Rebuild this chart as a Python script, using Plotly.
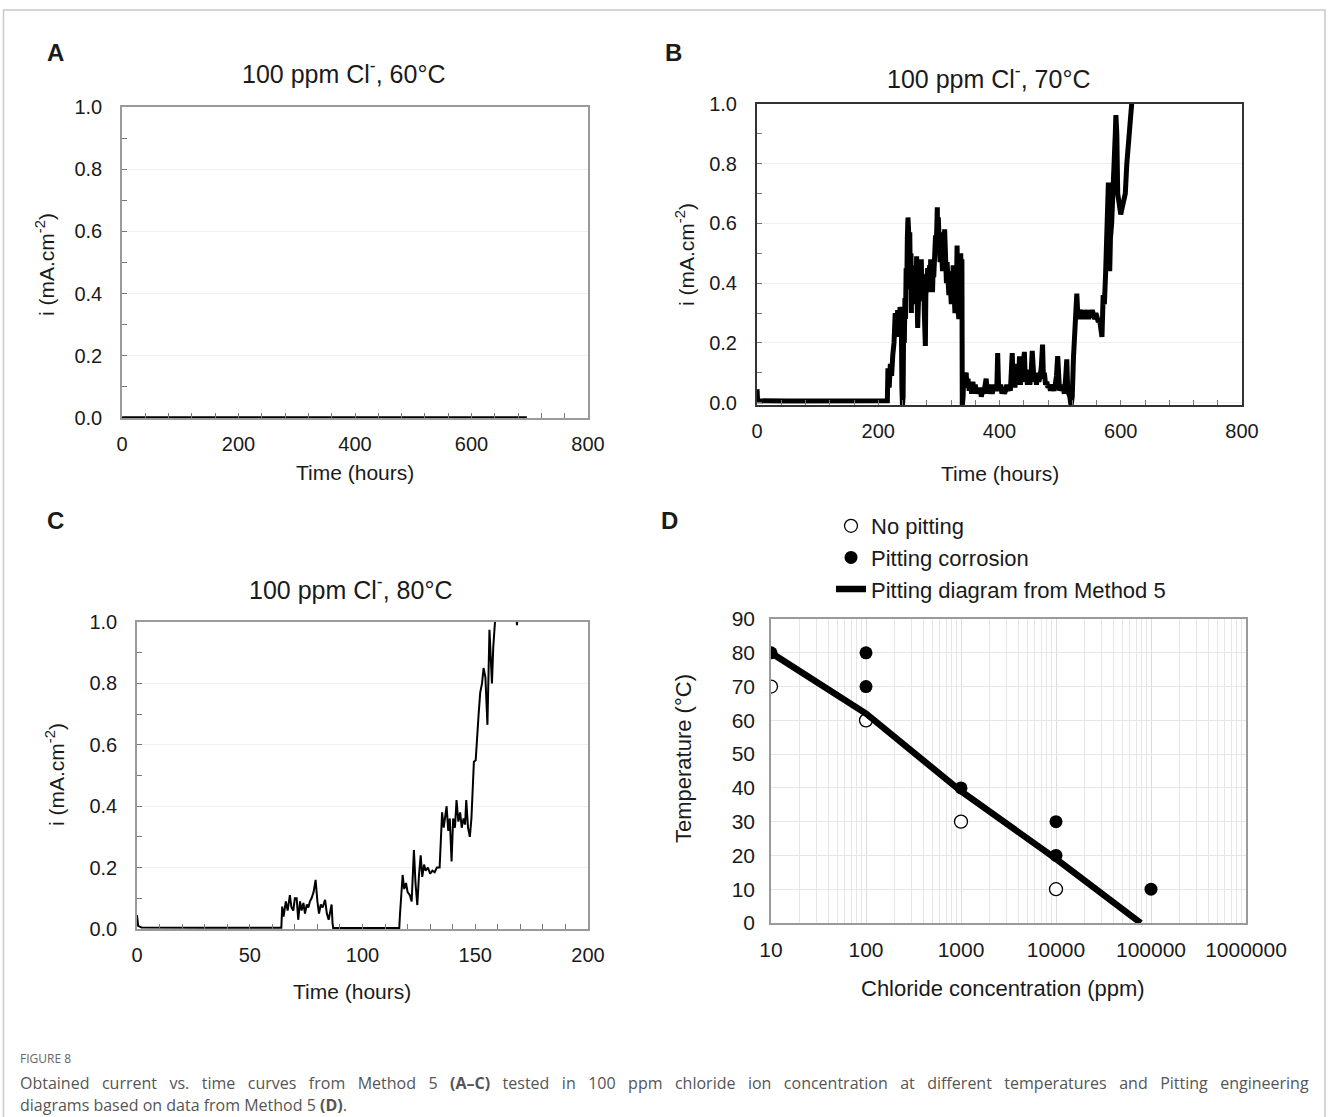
import plotly.graph_objects as go

# ---------------- data ----------------
# Panel A: 100 ppm Cl-, 60 C
a_time = [0, 1, 100, 200, 300, 400, 500, 600, 695]
a_current = [0.004, 0.002, 0.002, 0.002, 0.002, 0.002, 0.002, 0.002, 0.002]

# Panel B: 100 ppm Cl-, 70 C (segment by segment)
b_time = (
    [0, 1, 50, 100, 150, 200, 215]
    + [216, 218, 220, 222, 224, 226, 228, 230, 232, 234, 236, 238, 239, 240, 241]
    + [242, 243, 244, 245, 246, 247, 248, 249, 250, 251,
       252, 253, 254, 254.6, 255.5, 256.5, 257.5, 258.5, 259.5, 260.5,
       261.5, 262.5, 263.3, 264, 265, 266, 267, 268, 269, 270,
       271, 272, 273, 274, 275, 276, 277.7, 278.5, 279.5, 280.5,
       281.5, 282.5, 283.5, 284.8, 285.5, 286.5, 287.5, 288.5, 289.5, 290.5,
       291.5, 292.5, 293.5, 294.5, 295.5, 296.5, 297.4, 298, 299, 300,
       301, 302, 303, 304, 305, 306, 307, 308, 309.5, 310.5,
       311.5, 312.5, 313.5, 314.5, 315.5, 316.5, 317.5, 318.5, 319.5, 320.5,
       321.5, 322.5, 323.5, 324.5, 325.5, 326.5, 327.5, 328.5, 329.5, 330,
       331, 332, 333, 334, 335, 336, 337, 338, 338.6]
    + [340, 341, 342, 343.5, 345, 346.5, 348, 350, 352, 354,
       356, 358, 360, 362, 364, 366, 368, 370, 372, 374,
       376, 378, 380, 382, 384, 386, 388, 390, 392, 394,
       395.5, 397, 398.5, 400, 402, 404, 406, 408, 410, 412,
       414, 416, 418, 419.5, 421, 422.5, 424, 425.5, 427, 428.5,
       430, 431.5, 433, 434.5, 436, 437.5, 439, 441, 442.5, 444,
       446, 448, 450, 452, 454, 455.5, 457, 459, 461, 463,
       465, 467, 469, 471, 472.5, 474, 476, 478, 480, 482,
       484, 486, 488, 490, 492, 494, 496, 497.5, 499, 501,
       503, 505, 507, 509, 511, 512.5, 514, 516, 518]
    + [520, 522, 524, 526, 527.5, 529, 531, 533, 535, 537,
       539, 541, 543, 545, 547, 549, 551, 553, 555, 557,
       559, 561, 563, 565, 567, 569, 571, 573, 575, 577,
       578.5, 579.6, 581, 581.8, 583, 585, 587, 589, 591, 592,
       593.5, 595, 597, 600, 602, 604, 606, 607.5, 610, 613,
       617, 620]
)
b_current = (
    [0.045, 0.006, 0.005, 0.005, 0.005, 0.005, 0.006]
    + [0.115, 0.05, 0.13, 0.09, 0.16, 0.2, 0.3, 0.22, 0.31, 0.25, 0.32, 0.3, 0.05, -0.01, 0.02]
    + [0.3, 0.2, 0.35, 0.28, 0.45, 0.38, 0.55, 0.62, 0.58, 0.45,
       0.57, 0.38, 0.5, 0.3, 0.45, 0.33, 0.42, 0.34, 0.46, 0.36,
       0.44, 0.37, 0.49, 0.38, 0.25, 0.42, 0.33, 0.45, 0.35, 0.47,
       0.48, 0.36, 0.43, 0.34, 0.42, 0.3, 0.19, 0.36, 0.44, 0.36,
       0.45, 0.37, 0.43, 0.46, 0.38, 0.48, 0.39, 0.47, 0.37, 0.45,
       0.42, 0.52, 0.45, 0.56, 0.5, 0.6, 0.654, 0.55, 0.62, 0.5,
       0.6, 0.47, 0.57, 0.46, 0.55, 0.44, 0.53, 0.45, 0.58, 0.43,
       0.5, 0.4, 0.47, 0.38, 0.46, 0.36, 0.44, 0.35, 0.43, 0.33,
       0.42, 0.34, 0.46, 0.32, 0.42, 0.3, 0.4, 0.31, 0.45, 0.526,
       0.4, 0.3, 0.28, 0.45, 0.35, 0.5, 0.42, 0.48, -0.01]
    + [0.02, 0.1, 0.06, 0.09, 0.1, 0.05, 0.08, 0.04, 0.07, 0.03,
       0.07, 0.04, 0.06, 0.03, 0.05, 0.03, 0.05, 0.02, 0.04, 0.03,
       0.07, 0.08, 0.03, 0.05, 0.04, 0.06, 0.03, 0.05, 0.04, 0.06,
       0.04, 0.166, 0.05, 0.04, 0.06, 0.03, 0.05, 0.03, 0.04, 0.06,
       0.04, 0.05, 0.04, 0.09, 0.166, 0.06, 0.09, 0.05, 0.13, 0.07,
       0.1, 0.06, 0.155, 0.06, 0.09, 0.07, 0.12, 0.17, 0.08, 0.11,
       0.06, 0.1, 0.06, 0.09, 0.173, 0.1, 0.07, 0.09, 0.06, 0.1,
       0.07, 0.09, 0.12, 0.194, 0.08, 0.1, 0.06, 0.07, 0.05, 0.06,
       0.04, 0.06, 0.05, 0.04, 0.06, 0.09, 0.156, 0.06, 0.04, 0.06,
       0.04, 0.05, 0.03, 0.08, 0.145, 0.04, 0.03, 0.02, -0.01]
    + [0.02, 0.15, 0.26, 0.3, 0.365, 0.3, 0.28, 0.31, 0.29, 0.31,
       0.28, 0.3, 0.29, 0.31, 0.28, 0.3, 0.29, 0.31, 0.3, 0.28,
       0.3, 0.29, 0.27, 0.28, 0.25, 0.22, 0.36, 0.33, 0.43, 0.55,
       0.6, 0.737, 0.6, 0.44, 0.55, 0.6, 0.68, 0.8, 0.9, 0.963,
       0.9, 0.7, 0.68, 0.63, 0.65, 0.67, 0.69, 0.7, 0.8, 0.9,
       1.0, 1.05]
)
assert len(b_time) == len(b_current)

# Panel C: 100 ppm Cl-, 80 C
c_time = [0, 0.5, 2, 10, 30, 50, 64, 64.4, 65, 66, 66.8, 67.8, 68.5, 69.3, 70, 70.8, 71.5, 72.3, 73,
          73.8, 74.5, 75.3, 76, 76.7, 77.4, 78.3, 79.2, 80, 80.7, 81.5, 82.3, 83.4, 84.2, 85, 85.7,
          86.3, 86.7, 87, 90, 100, 110, 116.3, 116.6, 117.2, 117.8, 118.5, 119.3, 120, 121, 121.8,
          122.3, 122.8, 123.5, 124.3, 125, 125.8, 126.5, 127.3, 128, 129, 130, 131, 132, 133, 134.2,
          134.7, 135.3, 136, 136.6, 137.3, 138, 138.7, 139.5, 140.2, 141, 141.7, 142.5, 143.3, 144,
          144.8, 145.5, 146, 146.8, 147.6, 148.3, 149, 149.4, 150.2, 150.9, 151.5, 152.2, 153, 153.7,
          154.5, 155.4, 155.8, 156.3, 156.9, 157.4, 158, 158.8, 159.5, 168, 168.5, 169]
c_current = [0.045, 0.01, 0.005, 0.004, 0.004, 0.004, 0.004, 0.073, 0.04, 0.09, 0.06, 0.11, 0.07,
             0.06, 0.1, 0.1, 0.03, 0.09, 0.06, 0.085, 0.05, 0.08, 0.07, 0.09, 0.1, 0.12, 0.16, 0.09,
             0.05, 0.08, 0.07, 0.095, 0.05, 0.03, 0.06, 0.08, 0.02, 0.003, 0.003, 0.003, 0.003,
             0.003, 0.045, 0.12, 0.176, 0.13, 0.15, 0.12, 0.11, 0.09, 0.18, 0.257, 0.15, 0.078,
             0.17, 0.24, 0.17, 0.21, 0.19, 0.2, 0.18, 0.19, 0.185, 0.2, 0.2, 0.3, 0.38, 0.33, 0.37,
             0.4, 0.32, 0.36, 0.22, 0.36, 0.33, 0.42, 0.35, 0.38, 0.33, 0.36, 0.34, 0.42, 0.33, 0.3,
             0.36, 0.46, 0.545, 0.55, 0.655, 0.7, 0.77, 0.8, 0.85, 0.82, 0.665, 0.85, 0.975, 0.88,
             0.8, 0.92, 1.0, 1.08, 1.05, 0.99, 1.05]

# Panel D: pitting engineering diagram
no_pit_conc = [10, 100, 1000, 10000]
no_pit_temp = [70, 60, 30, 10]
pit_conc = [10, 100, 100, 1000, 10000, 10000, 100000]
pit_temp = [80, 80, 70, 40, 30, 20, 10]
diagram_conc = [10, 100, 1000, 10000, 78000]
diagram_temp = [80, 62, 39, 19, 0]

d_tickvals = [10, 100, 1000, 10000, 100000, 1000000]
d_ticktext = ["10", "100", "1000", "10000", "100000", "1000000"]
d_minor = [m * 10 ** e for e in range(1, 6) for m in range(2, 10)]

caption_line1_words = ["Obtained", "current", "vs.", "time", "curves", "from", "Method", "5", "<b>(A–C)</b>",
                       "tested", "in", "100", "ppm", "chloride", "ion", "concentration", "at", "different",
                       "temperatures", "and", "Pitting", "engineering"]
caption_line2 = "diagrams based on data from Method 5 <b>(D)</b>."

# ---------------- layout helpers ----------------
W, H = 1328, 1117
FONT = "Liberation Sans, Arial, sans-serif"


def xd(a, b):
    return [a / W, b / W]


def yd(top, bottom):
    return [1 - bottom / H, 1 - top / H]


def px(x):
    return x / W


def py(y):
    return 1 - y / H


fig = go.Figure()

fig.add_trace(go.Scatter(x=a_time, y=a_current, mode="lines", line=dict(color="black", width=2.5),
                         xaxis="x", yaxis="y", showlegend=False))
fig.add_trace(go.Scatter(x=b_time, y=b_current, mode="lines", line=dict(color="black", width=5),
                         xaxis="x2", yaxis="y2", showlegend=False))
fig.add_trace(go.Scatter(x=c_time, y=c_current, mode="lines", line=dict(color="black", width=2),
                         xaxis="x3", yaxis="y3", showlegend=False))

fig.add_trace(go.Scatter(x=no_pit_conc, y=no_pit_temp, mode="markers", name="No pitting",
                         marker=dict(symbol="circle", size=13, color="white",
                                     line=dict(color="black", width=1.3)),
                         xaxis="x4", yaxis="y4", legendrank=1))
fig.add_trace(go.Scatter(x=diagram_conc, y=diagram_temp, mode="lines", name="Pitting diagram from Method 5",
                         line=dict(color="black", width=6.5), xaxis="x4", yaxis="y4", legendrank=3))
fig.add_trace(go.Scatter(x=pit_conc, y=pit_temp, mode="markers", name="Pitting corrosion",
                         marker=dict(symbol="circle", size=13, color="black"),
                         xaxis="x4", yaxis="y4", legendrank=2))

tick_font = dict(family=FONT, size=20, color="#1a1a1a")


def time_axes(domx, domy, xrange, xdtick, xminor, yrange, linecolor, linewidth):
    xa = dict(domain=domx, range=xrange, dtick=xdtick, tick0=0, showline=True, mirror=True,
              linecolor=linecolor, linewidth=linewidth, ticks="inside", ticklen=5, tickcolor="#777",
              showgrid=False, zeroline=False, tickfont=tick_font, ticklabelstandoff=7,
              minor=dict(ticks="inside", ticklen=5, dtick=xminor, tickcolor="#777", showgrid=False))
    ya = dict(domain=domy, range=yrange, dtick=0.2, tick0=0, tickformat=".1f", showline=True, mirror=True,
              linecolor=linecolor, linewidth=linewidth, ticks="inside", ticklen=5, tickcolor="#777",
              showgrid=True, gridcolor="#efefef", gridwidth=1, zeroline=False, tickfont=tick_font,
              ticklabelstandoff=14,
              minor=dict(ticks="inside", ticklen=5, dtick=0.1, tickcolor="#777", showgrid=False))
    return xa, ya


xa1, ya1 = time_axes(xd(122, 588), yd(107, 418), [0, 800], 200, 40, [0, 1], "#9a9a9a", 1.5)
xa2, ya2 = time_axes(xd(757, 1242), yd(104, 405), [0, 800], 200, 40, [-0.008, 1], "#333", 2)
xa3, ya3 = time_axes(xd(137, 588), yd(622, 929), [0, 200], 50, 10, [0, 1], "#9a9a9a", 1.5)
xa1["anchor"], ya1["anchor"] = "y", "x"
xa2["anchor"], ya2["anchor"] = "y2", "x2"
xa3["anchor"], ya3["anchor"] = "y3", "x3"

xa4 = dict(domain=xd(771, 1246), type="log", range=[1, 6], anchor="y4", showline=True, mirror=True,
           linecolor="#9a9a9a", linewidth=1.5, tickvals=d_tickvals, ticktext=d_ticktext, ticks="",
           showgrid=True, gridcolor="#dcdcdc", gridwidth=1, zeroline=False,
           tickfont=dict(family=FONT, size=21, color="#1a1a1a"), ticklabelstandoff=7,
           minor=dict(tickvals=d_minor, showgrid=True, gridcolor="#e6e6e6", gridwidth=1, ticks=""))
ya4 = dict(domain=yd(619, 923), range=[0, 90], dtick=10, anchor="x4", showline=True, mirror=True,
           linecolor="#9a9a9a", linewidth=1.5, ticks="", showgrid=True, gridcolor="#e6e6e6",
           zeroline=False, tickfont=dict(family=FONT, size=21, color="#1a1a1a"), ticklabelstandoff=10)

annotations = []


def ann(text, x, y, size, bold=False, rot=0, xanchor="center", color="#1a1a1a", family=FONT):
    annotations.append(dict(text=f"<b>{text}</b>" if bold else text, x=px(x), y=py(y), xref="paper",
                            yref="paper", showarrow=False, xanchor=xanchor, yanchor="middle",
                            textangle=rot, font=dict(family=family, size=size, color=color)))


# panel letters
ann("A", 55, 53, 24, bold=True)
ann("B", 673, 53, 24, bold=True)
ann("C", 55, 520, 24, bold=True)
ann("D", 670, 520, 24, bold=True)

# panel titles
ann("100 ppm Cl<sup>-</sup>, 60°C", 343, 72, 25)
ann("100 ppm Cl<sup>-</sup>, 70°C", 988, 77, 25)
ann("100 ppm Cl<sup>-</sup>, 80°C", 350, 588, 25)

# axis titles
ann("Time (hours)", 355, 472, 21)
ann("Time (hours)", 1000, 473, 21)
ann("Time (hours)", 352, 991, 21)
ann("i (mA.cm<sup>-2</sup>)", 45, 265, 21, rot=-90)
ann("i (mA.cm<sup>-2</sup>)", 685, 255, 21, rot=-90)
ann("i (mA.cm<sup>-2</sup>)", 55, 775, 21, rot=-90)
ann("Chloride concentration (ppm)", 1003, 988, 22)
ann("Temperature (°C)", 683, 758, 22, rot=-90)

# caption (first line justified like the source page)
CAP = "Open Sans, Noto Sans, sans-serif"
ann("FIGURE 8", 18, 1058, 12, xanchor="left", color="#666", family=CAP)
ann(" \u00a0\u00a0".join(caption_line1_words), 18, 1083, 16, xanchor="left", color="#555", family=CAP)
ann(caption_line2, 18, 1105, 16, xanchor="left", color="#555", family=CAP)

fig.update_layout(
    width=W, height=H, autosize=False,
    margin=dict(l=0, r=0, t=0, b=0, pad=0, autoexpand=False),
    paper_bgcolor="white", plot_bgcolor="white",
    font=dict(family=FONT, color="#1a1a1a"),
    xaxis=xa1, yaxis=ya1, xaxis2=xa2, yaxis2=ya2, xaxis3=xa3, yaxis3=ya3, xaxis4=xa4, yaxis4=ya4,
    annotations=annotations,
    showlegend=True,
    legend=dict(x=px(831), y=py(505), xanchor="left", yanchor="top", bgcolor="rgba(0,0,0,0)",
                font=dict(family=FONT, size=22, color="#1a1a1a"), itemwidth=30, tracegroupgap=0),
    shapes=[dict(type="rect", xref="paper", yref="paper", x0=px(3.5), x1=px(1325), y0=py(1140), y1=py(10),
                 line=dict(color="#c8c8c8", width=1.5), fillcolor="rgba(0,0,0,0)", layer="below")],
)

fig.write_html("out.html", config={"displayModeBar": False, "responsive": False},
               post_script="document.body.style.margin='0';document.body.style.overflow='hidden';")
